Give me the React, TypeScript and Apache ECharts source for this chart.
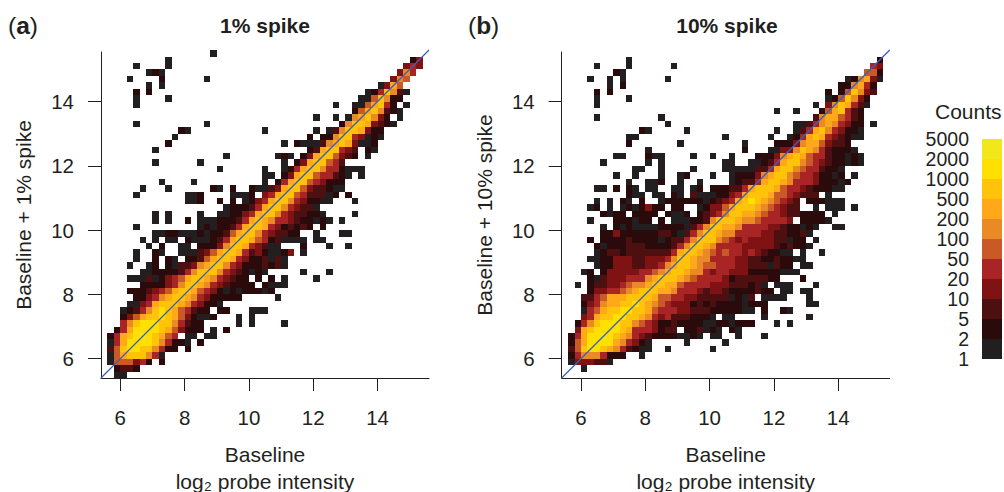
import React, { useEffect, useRef } from "react";
import * as echarts from "echarts";

const levelColors = ["#ffffff", "#231f20", "#2a0a0b", "#4e0f10", "#7f1212", "#a82425", "#c95a28", "#e98a25", "#ffa81a", "#ffc40a", "#ffe000", "#f0e81a"];
const countLabels = ["1", "2", "5", "10", "20", "50", "100", "200", "500", "1000", "2000", "5000"];
const legendLevels = [1, 2, 3, 4, 5, 6, 7, 8, 9, 10, 11];
const tickValues = [6, 8, 10, 12, 14];

// One string per bin row, top row first. "col:levels" = hex level of consecutive bins from col.
const panelARows = [
  "17:1",
  "10:1 48:24",
  "5:1 10:1 47:454",
  "7:121 46:475",
  "4:1 9:2 16:1 45:476",
  "7:1 9:1 43:1486",
  "5:2 7:2 41:1259731",
  "5:1 10:1 40:1169722",
  "5:1 36:1 39:1168952 47:1",
  "39:26897321",
  "33:1 36:1 38:1789742 46:1",
  "5:1 16:1 37:279984321",
  "12:21 25:1 33:1 35:137998422",
  "11:1 32:2 34:2279954121",
  "10:2 28:1 30:2111378984112",
  "8:1 32:23899543 41:21",
  "19:1 27:121 31:248996432 41:1",
  "8:1 15:1 28:1 30:24899653",
  "18:1 25:1 28:1258997552111",
  "25:11 28:24899655321 40:1",
  "9:1 14:1 25:1 27:25899654222",
  "6:1 10:1 17:21 20:2 23:211 26:348996433211",
  "5:1 13:112 20:1112 25:458996533312 38:2",
  "13:112 18:2 20:2 22:124 25:58997542211 39:1",
  "19:122235899754331",
  "8:1 10:1 15:1 18:11224589975433221 39:1",
  "8:1 10:1 13:2 15:111222358987554322121 37:1",
  "5:1 15:121223589985423232 34:2",
  "8:11221112122368997543322 33:1 37:11",
  "6:1 8:1 10:11 13:2111235899865231111 33:11",
  "7:1 9:2 12:11 15:2224799854311 31:2 35:1 38:1",
  "5:1 8:21 12:111 15:346899853421124 31:1",
  "5:1 8:2 10:21 13:2236899854223131",
  "4:1 7:12 10:2133478997542223231",
  "6:11222235799975432121 31:1 35:1",
  "4:1113124568998754322 24:2 26:2 28:1 33:1",
  "6:222245799875432222 25:2111",
  "4:22234568998654212122212",
  "5:22457899875422222 27:1",
  "4:114589998754221",
  "3:123579a9865322 18:22 23:111",
  "3:246899a98642112 21:1 23:1",
  "3:579aaa9975322 21:1 23:1 28:1",
  "2:258aaaa9864222 17:1 19:2",
  "1:2589aba9865 13:11 16:11",
  "1:158aaaa975221 15:2",
  "1:369aa997522 13:2",
  "1:168999751",
  "1:1666452 9:2",
  "2:2332",
  "2:11",
];

const panelBRows = [
  "",
  "10:1 49:2",
  "5:1 10:1 17:1 48:54",
  "8:21 47:662",
  "4:1 7:1 9:1 16:1 44:127841",
  "7:1 9:2 43:227852",
  "5:2 7:2 41:2 43:269743",
  "5:1 10:1 41:1269742",
  "5:1 39:1 41:4798531",
  "33:1 36:1 40:2689532",
  "5:1 15:1 39:37886532",
  "16:1 36:11357875422 48:1",
  "12:21 19:1 33:1 36:13589754221",
  "10:11 25:1 32:1 35:125898543211",
  "10:2 18:1 28:1 33:222478864332",
  "13:1 28:2 32:11447987532221",
  "8:11 13:211 20:1 23:1 26:1 30:22247898655322121",
  "6:1 13:1 15:1 25:11 29:112358997654322121",
  "11:11 15:1 20:1 25:11 27:11133589976553221",
  "8:1 11:1 15:1 18:12 23:1 26:122247899765542212 45:1",
  "10:1 13:112 18:1 21:1 26:1233589987555422212",
  "5:11 8:2 10:21 13:11 17:11 20:12 23:222335899986554322211",
  "10:211 14:11 17:21 20:3111 24:2245899986654333 41:1",
  "5:1 7:1 9:21 12:2 15:12222221234589a9876543 38:222111",
  "4:12 7:1 9:1212422 17:22 21:1244689998765433 39:1 41:111 45:1",
  "6:2122 11:2222 16:2112 21:23457998876554332222 42:1",
  "4:1 8:222122 15:2 17:111 20:2237999877655554 37:22221",
  "6:1 8:21211112222135799887555544322121 42:11",
  "6:224222222332135799877555544332231",
  "4:2 6:22223222212335799976545444433122 39:1",
  "5:2122233322223579987555544444323221",
  "5:1233233333335899876565545432211 37:1 40:1",
  "4:1122444334445799877555544332232211",
  "5:1 6:22444 11:3344 15:578998766555443331 33:3 34:22 37:11",
  "3:12 6:2444445567899877545544422222111",
  "4:213444555789998765555423333322 37:2",
  "2:1 4:2334456778998865555444333231 33:111 39:1",
  "4:24455678999887555434432222322 34:11 37:11",
  "3:335688899998665544333331213 31:1111 38:1",
  "3:24578899a98765444232322221222 38:11",
  "3:156899aa9986555443332222211 31:2 34:21",
  "3:45899aa99875453332221 25:11 31:1 38:1",
  "2:2579aaa997654223222211221222 33:1 35:1",
  "2:489aaaa985554233 19:223121 26:21",
  "1:258aaba9875432222 18:1121 23:11 27:1 31:1",
  "1:268aaaa875421 19:1 25:1",
  "1:369aa98753211 16:1 23:1",
  "1:257775222 12:1",
  "1:1444331",
  "3:1",
  "",
];

const BIN = 0.2;
const AXIS_MIN = 5.4;

function decodeRows(rows: string[]) {
  const out: number[][] = [];
  rows.forEach((row, idx) => {
    const j = rows.length - 1 - idx;
    row.split(" ").filter(Boolean).forEach((tok) => {
      const [c, levels] = tok.split(":");
      (levels || "").split("").forEach((ch, k) => {
        const lvl = parseInt(ch, 16);
        if (lvl > 0) out.push([AXIS_MIN + BIN * (Number(c) + k), AXIS_MIN + BIN * j, lvl]);
      });
    });
  });
  return out;
}

const renderBin = (_p: any, api: any) => {
  const x = api.value(0), y = api.value(1), lvl = api.value(2);
  const a = api.coord([x, y]);
  const b = api.coord([x + BIN, y + BIN]);
  const x0 = Math.round(a[0]), x1 = Math.round(b[0]), y0 = Math.round(a[1]), y1 = Math.round(b[1]);
  return { type: "rect", shape: { x: x0, y: y1, width: x1 - x0, height: y0 - y1 }, style: { fill: levelColors[lvl] } };
};

const renderLegend = (_p: any, api: any) => {
  const i = api.value(0);
  const a = api.coord([0, i - 1]);
  const b = api.coord([1, i]);
  return { type: "rect", shape: { x: a[0], y: b[1], width: b[0] - a[0], height: a[1] - b[1] }, style: { fill: levelColors[i] } };
};

const TEXT = "#231f20";
const FONT = "Liberation Sans";
const AXIS_MAX_X = 15.6;
const AXIS_MAX_Y = 15.54;

function axisBase(max: number) {
  return {
    type: "value" as const,
    min: AXIS_MIN,
    max,
    splitLine: { show: false },
    axisLine: { show: true, onZero: false, lineStyle: { color: "#231f20", width: 1 } },
    axisTick: { show: true, length: 13, customValues: tickValues, lineStyle: { color: "#231f20", width: 1 } },
  };
}

export default function App() {
  const ref = useRef<HTMLDivElement>(null);
  useEffect(() => {
    const chart = echarts.init(ref.current!, undefined, { renderer: "svg" });
    const lefts = [101, 561.7];
    const names = ["Baseline + 1% spike", "Baseline + 10% spike"];
    const rows = [panelARows, panelBRows];
    const grids: any[] = lefts.map((left) => ({ left, top: 52, width: 328, height: 326, outerBoundsMode: "none" }));
    grids.push({ left: 982, top: 139, width: 20, height: 220, outerBoundsMode: "none" });
    const xAxes: any[] = lefts.map((_, i) => ({
      ...axisBase(AXIS_MAX_X),
      gridIndex: i,
      axisLabel: { customValues: tickValues, margin: 29, fontSize: 20.5, fontFamily: FONT, color: TEXT },
      name: "{a|Baseline}\n{b|log₂ probe intensity}",
      nameLocation: "middle",
      nameGap: 59.5,
      nameTextStyle: {
        fontSize: 21,
        fontFamily: FONT,
        color: TEXT,
        rich: {
          a: { fontSize: 21, fontFamily: FONT, color: TEXT, lineHeight: 34 },
          b: { fontSize: 21, fontFamily: FONT, color: TEXT, lineHeight: 20 },
        },
      },
    }));
    xAxes.push({ gridIndex: 2, type: "value", min: 0, max: 1, show: false });
    const yAxes: any[] = lefts.map((_, i) => ({
      ...axisBase(AXIS_MAX_Y),
      gridIndex: i,
      axisLabel: { customValues: tickValues, margin: 27, fontSize: 20.5, fontFamily: FONT, color: TEXT },
      name: names[i],
      nameLocation: "middle",
      nameGap: 67,
      nameRotate: 90,
      nameTextStyle: { fontSize: 21, fontFamily: FONT, color: TEXT },
    }));
    yAxes.push({
      gridIndex: 2,
      type: "value",
      min: 0,
      max: 11,
      splitLine: { show: false },
      axisLine: { show: false },
      axisTick: { show: false },
      axisLabel: {
        customValues: countLabels.map((_, i) => i),
        formatter: (v: number) => countLabels[v],
        margin: 13,
        fontSize: 19.5,
        hideOverlap: false,
        showMinLabel: true,
        showMaxLabel: true,
        fontFamily: FONT,
        color: TEXT,
      },
    });
    const series: any[] = [];
    lefts.forEach((_, i) => {
      series.push({
        type: "custom",
        xAxisIndex: i,
        yAxisIndex: i,
        renderItem: renderBin,
        encode: { x: 0, y: 1 },
        clip: false,
        silent: true,
        data: decodeRows(rows[i]),
      });
      series.push({
        type: "line",
        xAxisIndex: i,
        yAxisIndex: i,
        data: [[AXIS_MIN, AXIS_MIN], [AXIS_MAX_X, AXIS_MAX_X]],
        clip: false,
        symbol: "none",
        silent: true,
        lineStyle: { color: "#3f5fb5", width: 1.3 },
        z: 5,
      });
    });
    series.push({
      type: "custom",
      xAxisIndex: 2,
      yAxisIndex: 2,
      renderItem: renderLegend,
      encode: { y: 0 },
      silent: true,
      data: legendLevels.map((l) => [l]),
    });
    const titleStyle = { fontSize: 21, fontWeight: "bold" as const, fontFamily: FONT, color: TEXT };
    const tagStyle = {
      fontSize: 24.5,
      fontWeight: "normal" as const,
      fontFamily: FONT,
      color: TEXT,
      rich: { b: { fontSize: 24.5, fontWeight: "bold" as const, fontFamily: FONT, color: TEXT } },
    };
    chart.setOption({
      animation: false,
      backgroundColor: "#ffffff",
      grid: grids,
      xAxis: xAxes,
      yAxis: yAxes,
      series,
      title: [
        { text: "1% spike", left: 260, top: 10, textAlign: "center", textStyle: titleStyle },
        { text: "10% spike", left: 722, top: 10, textAlign: "center", textStyle: titleStyle },
        { text: "({b|a})", left: 3, top: 8, textStyle: tagStyle },
        { text: "({b|b})", left: 463, top: 8, textStyle: tagStyle },
        { text: "Counts", left: 930, top: 96, textStyle: { fontSize: 21, fontWeight: "normal", fontFamily: FONT, color: TEXT } },
      ],
    });
    return () => chart.dispose();
  }, []);
  return <div ref={ref} style={{ position: "fixed", left: 0, top: 0, width: 1004, height: 492 }} />;
}
